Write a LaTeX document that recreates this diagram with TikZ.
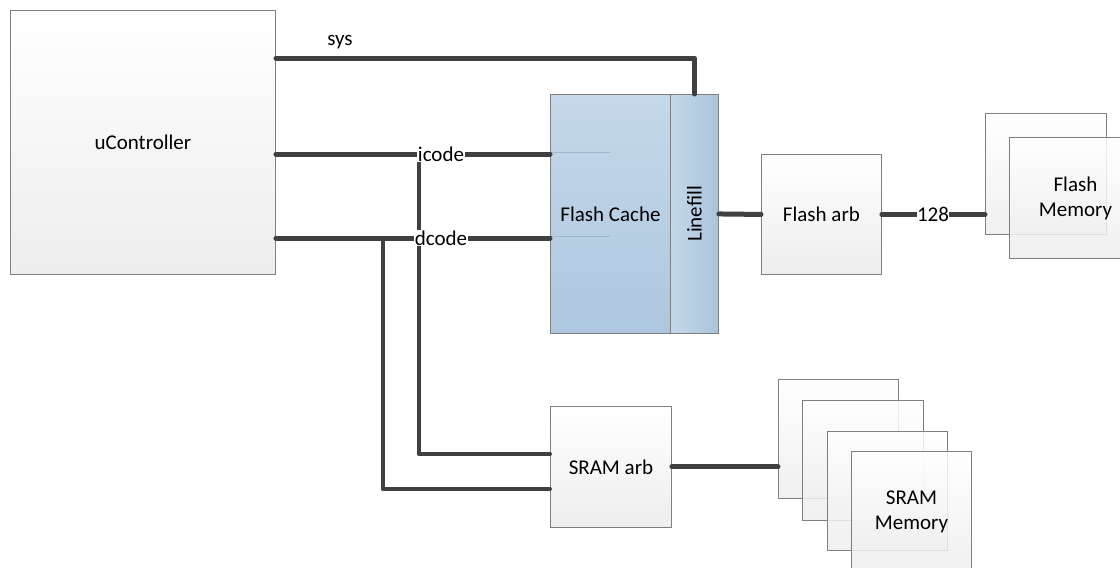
\documentclass[tikz,border=0pt]{standalone}
\usepackage{fontspec}
\setmainfont{Carlito}
\usetikzlibrary{calc}
\definecolor{bordergray}{HTML}{7F7F7F}
\definecolor{boxbottom}{HTML}{EDEDED}
\definecolor{busgray}{HTML}{404040}
\definecolor{cachetop}{HTML}{C5D8EA}
\definecolor{cachebot}{HTML}{ADC7DE}
\definecolor{lfright}{HTML}{A8C4DC}
\definecolor{thinblue}{HTML}{9FB7CD}
\begin{document}
\begin{tikzpicture}[x=1pt,y=-1pt,
  font=\fontsize{21}{25}\selectfont,
  box/.style={draw=bordergray, line width=0.9pt, top color=white, bottom color=boxbottom,
    anchor=north west, inner sep=0pt, align=center},
  ghostbox/.style={box, fill opacity=0.85, text opacity=1},
  bus/.style={draw=busgray, line width=5pt, line cap=round, line join=round},
  thinbus/.style={draw=busgray, line width=4pt, line cap=round, line join=round},
  lbl/.style={fill=white, inner sep=0.5pt, text=black}
]
\useasboundingbox (0,0) rectangle (1120,568);

% boxes
\node[box, minimum width=265pt, minimum height=264pt] (uc) at (10,10) {uController};
\node[box, top color=cachetop, bottom color=cachebot, minimum width=120pt, minimum height=239pt] (fc) at (550,94) {Flash Cache};
\node[box, left color=cachetop, right color=lfright, minimum width=48pt, minimum height=239pt] (lf) at (670,94) {};
\node[rotate=90] (lft) at (lf.center) {Linefill};
\node[box, minimum width=120pt, minimum height=120pt] (fa) at (761,154) {Flash arb};
\node[ghostbox, minimum width=121pt, minimum height=121pt] (fm1) at (985,113) {};
\node[ghostbox, minimum width=132pt, minimum height=121pt] (fm2) at (1009,137) {Flash\\Memory};
\node[box, minimum width=121pt, minimum height=121pt] (sa) at (550,406) {SRAM arb};
\node[ghostbox, minimum width=120pt, minimum height=119pt] (sm1) at (778,379) {};
\node[ghostbox, minimum width=121pt, minimum height=120pt] (sm2) at (802,400) {};
\node[ghostbox, minimum width=120pt, minimum height=119pt] (sm3) at (827,431) {};
\node[ghostbox, minimum width=120pt, minimum height=120pt] (sm4) at (851,451) {SRAM\\Memory};

% faint internal lines in flash cache
\coordinate (ic) at ($(fc.north west)+(0,58)$);
\coordinate (dc) at ($(fc.north west)+(0,142)$);
\draw[thinblue, line width=0.6pt] (ic) -- ++(60,0);
\draw[thinblue, line width=0.6pt] (dc) -- ++(60,0);

% ports
\coordinate (psys) at ($(uc.north east)+(0,48)$);
\coordinate (pi) at ($(uc.north east)+(0,144)$);
\coordinate (pd) at ($(uc.north east)+(0,228)$);
\coordinate (ji) at ($(pi)+(143,0)$);
\coordinate (jd) at ($(pd)+(107,0)$);
\coordinate (sai) at ($(sa.north west)+(0,48)$);
\coordinate (sad) at ($(sa.north west)+(0,83)$);

% buses
\draw[bus] (psys) -| (lf.north);
\draw[thinbus] (ji) |- (sai);
\draw[thinbus] (jd) |- (sad);
\draw[bus] (pi) -- (pi -| fc.west);
\draw[bus] (pd) -- (pd -| fc.west);
\draw[bus] (lf.east) -- (fa.west);
\draw[bus] (fa.east) -- (fa.east -| fm1.west);
\draw[bus] (sa.east) -- (sa.east -| sm1.west);

% labels
\node (sys) at (340,42) {sys};
\node[lbl] (icl) at (441,154) {icode};
\node[lbl] (dcl) at (441,238) {dcode};
\node[lbl] (w128) at (933,214) {128};
\end{tikzpicture}
\end{document}
